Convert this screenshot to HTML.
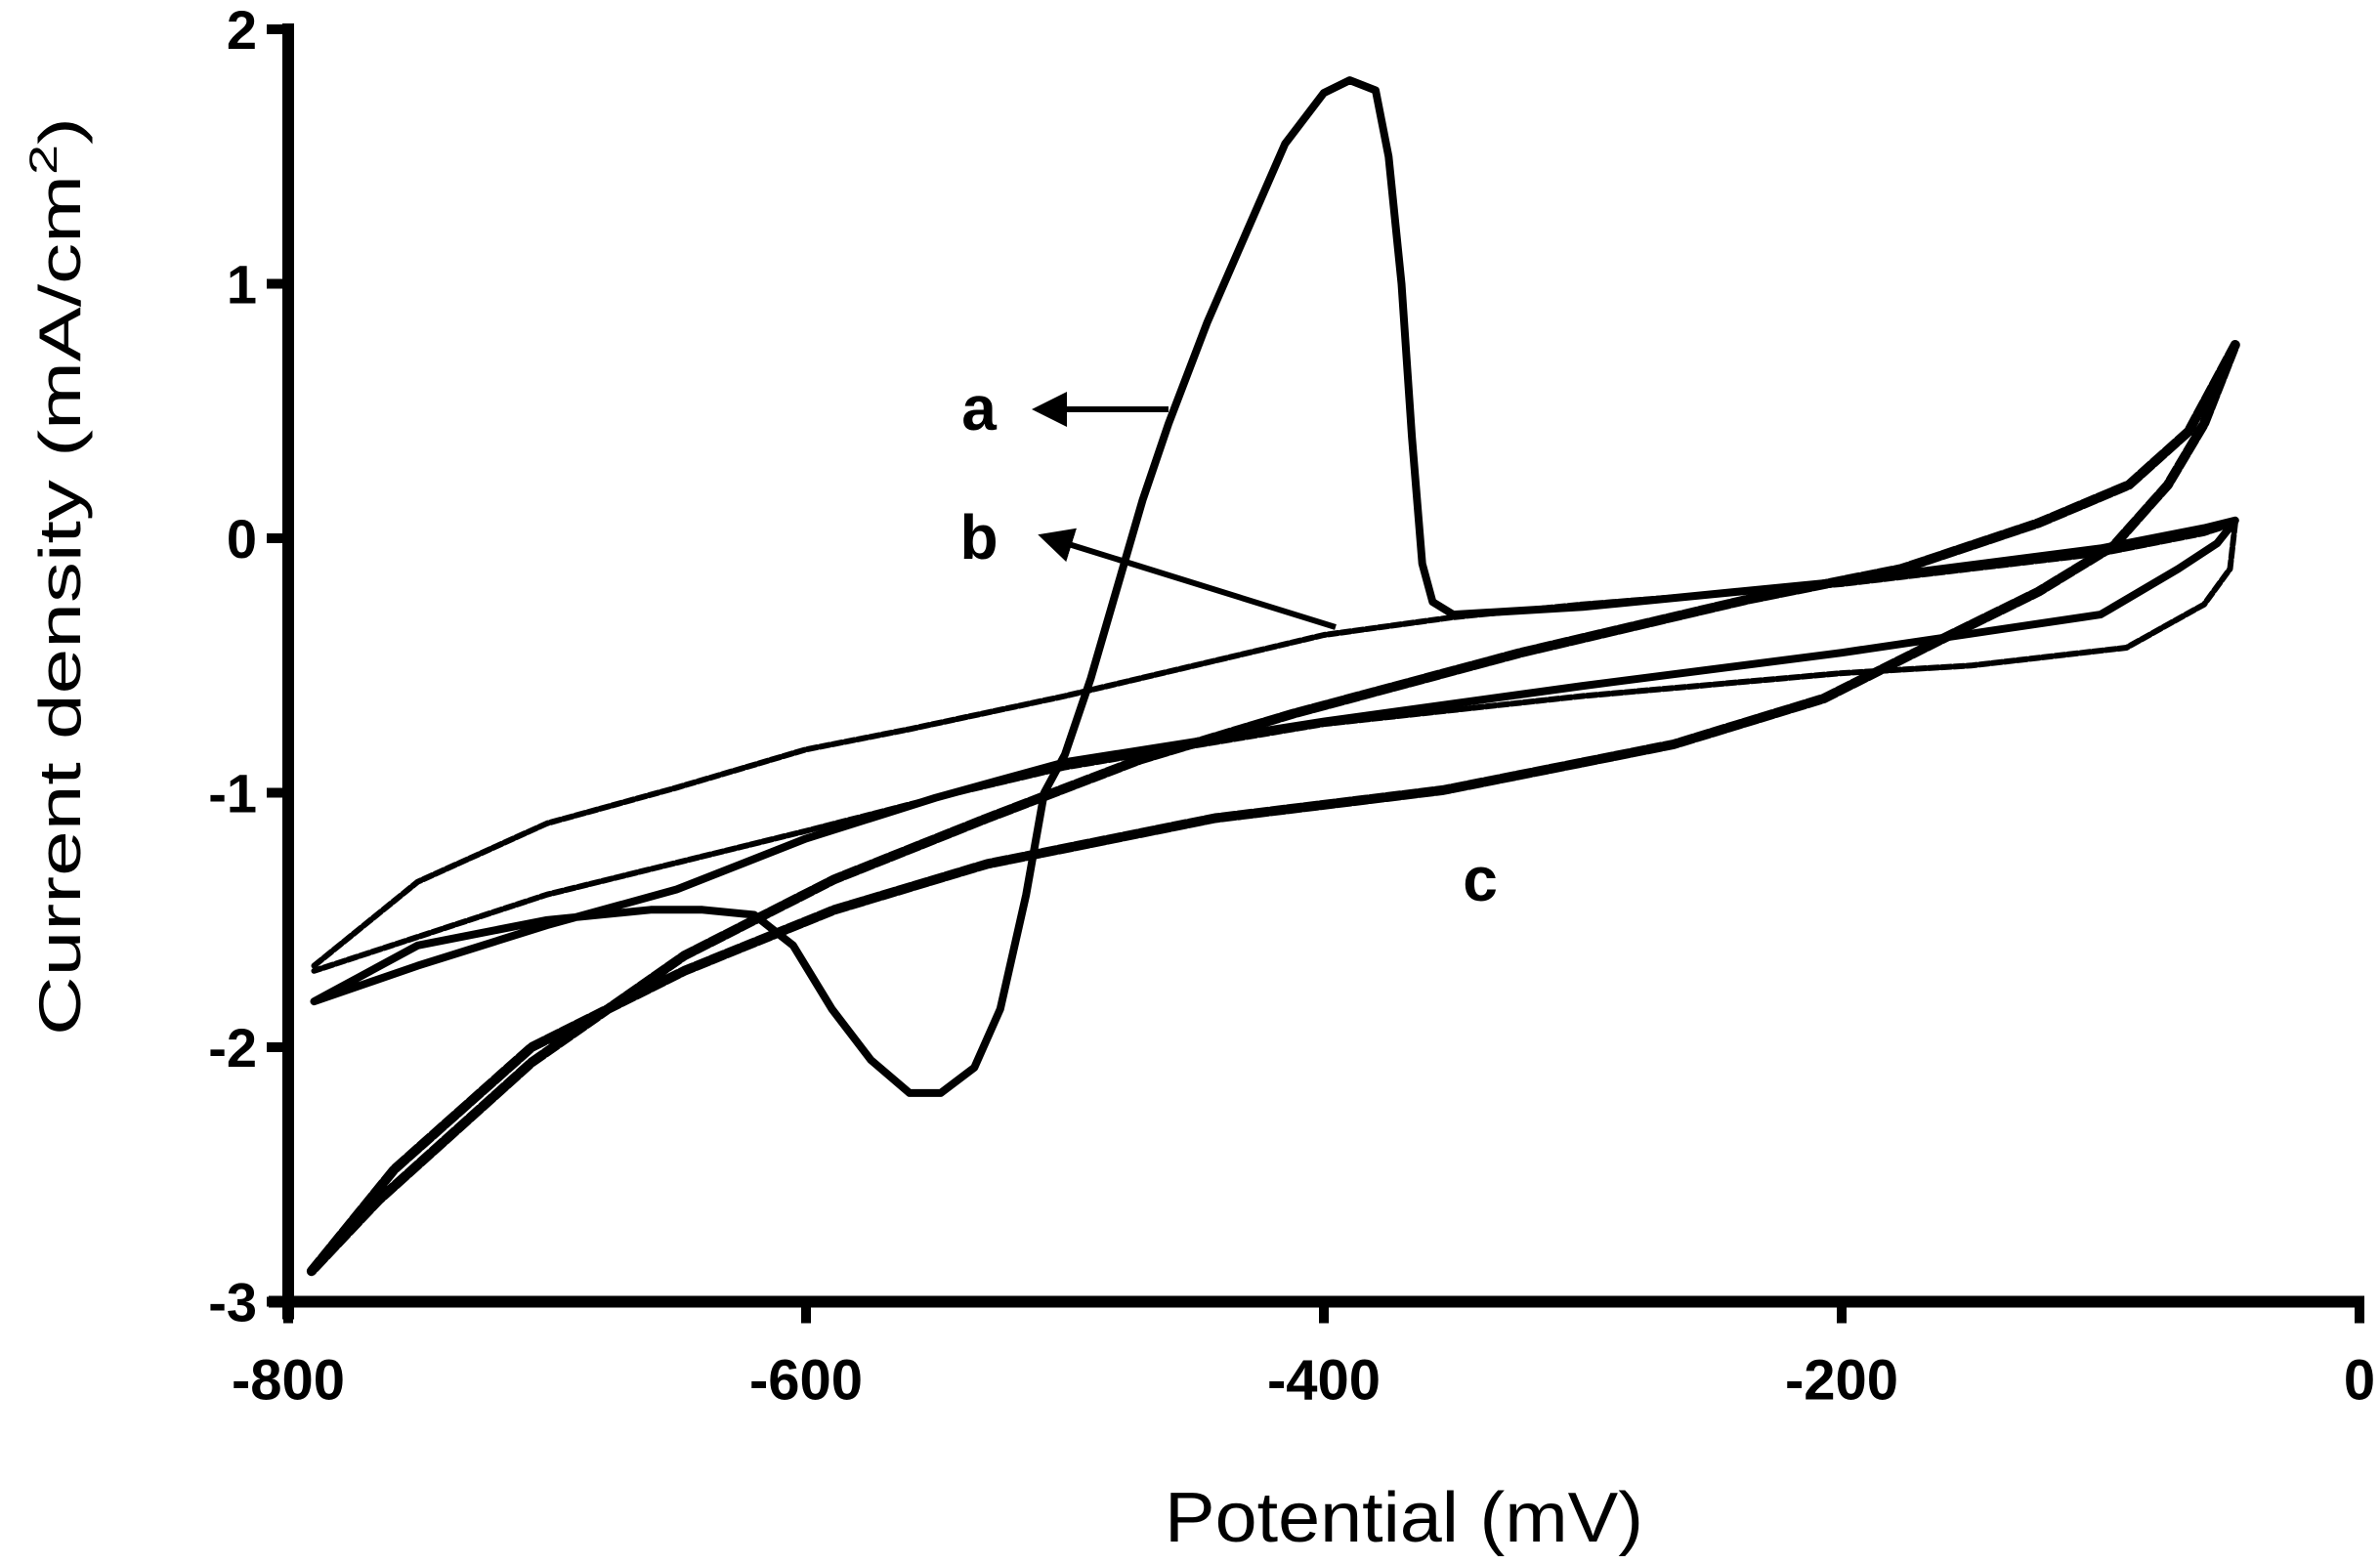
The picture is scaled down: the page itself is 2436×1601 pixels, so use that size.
<!DOCTYPE html>
<html><head><meta charset="utf-8"><style>
html,body{margin:0;padding:0;background:#fff;}
svg{display:block;}
text{font-family:"Liberation Sans",Arial,sans-serif;fill:#000;}
</style></head><body>
<svg id="chart" width="2436" height="1601" viewBox="0 0 2436 1601" xmlns="http://www.w3.org/2000/svg">
<g id="axes"></g>
<g id="series"></g>
<g id="annot"></g>
</svg>
<script>
const xTicks = [-800, -600, -400, -200, 0];
const yTicks = [2, 1, 0, -1, -2, -3];
const curveAx = [-790,-750,-700,-660,-640,-620,-605,-590,-575,-560,-548,-535,-525,-515,-508,-500,-490,-480,-470,-460,-445,-430,-415,-400,-390,-380,-375,-370,-366,-362,-358,-350,-300,-200,-100,-60,-48,-55,-70,-100,-200,-300,-400,-500,-550,-600,-650,-700,-750,-790];
const curveAy = [-1.82,-1.60,-1.50,-1.46,-1.46,-1.48,-1.60,-1.85,-2.05,-2.18,-2.18,-2.08,-1.85,-1.40,-1.00,-0.85,-0.55,-0.20,0.15,0.45,0.85,1.20,1.55,1.75,1.80,1.76,1.50,1.00,0.40,-0.10,-0.25,-0.30,-0.27,-0.17,-0.04,0.04,0.07,-0.02,-0.12,-0.30,-0.45,-0.58,-0.72,-0.88,-1.02,-1.18,-1.38,-1.52,-1.68,-1.82];
const curveBx = [-790,-750,-700,-650,-600,-560,-500,-450,-400,-350,-300,-200,-100,-60,-48,-50,-60,-90,-150,-200,-300,-400,-500,-550,-600,-700,-790];
const curveBy = [-1.68,-1.35,-1.12,-0.98,-0.83,-0.75,-0.62,-0.50,-0.38,-0.31,-0.26,-0.18,-0.06,0.02,0.06,-0.12,-0.26,-0.43,-0.50,-0.53,-0.62,-0.73,-0.90,-1.02,-1.15,-1.40,-1.70];
const curveCx = [-791,-759,-706,-647,-589,-530,-442,-354,-265,-207,-160,-124,-95,-74,-60,-48,-66,-89,-124,-177,-236,-324,-412,-471,-530,-589,-647,-706,-765,-791];
const curveCy = [-2.88,-2.48,-2.00,-1.70,-1.46,-1.28,-1.10,-0.99,-0.81,-0.63,-0.39,-0.21,-0.03,0.21,0.45,0.76,0.42,0.21,0.06,-0.12,-0.24,-0.45,-0.69,-0.87,-1.10,-1.34,-1.64,-2.06,-2.60,-2.88];

const X0 = 295, XW = 530/200, Y0 = 551, YH = 260.5;
function sx(v){ return X0 + (v + 800) * XW; }
function sy(v){ return Y0 - v * YH; }
const NS = "http://www.w3.org/2000/svg";
function mk(tag, parent, attrs){ const e=document.createElementNS(NS,tag); for(const k in attrs) e.setAttribute(k,attrs[k]); parent.appendChild(e); return e; }

const axes = document.getElementById('axes');
const yAxis = mk('line', axes, {x1:sx(-800), y1:sy(2)-6, x2:sx(-800), y2:sy(-3)+18, stroke:'#000','stroke-width':12});


const xAxis = mk('line', axes, {x1:sx(-800)-20, y1:sy(-3), x2:sx(0)+5, y2:sy(-3), stroke:'#000','stroke-width':12});


yTicks.forEach(t=>{
  const tk = mk('line', axes, {x1:sx(-800)-22, y1:sy(t), x2:sx(-800), y2:sy(t), stroke:'#000','stroke-width':10});
  
  
  const lb = mk('text', axes, {x:sx(-800)-32, y:sy(t)+20, 'font-size':56, 'font-weight':'bold', 'text-anchor':'end'});
  lb.textContent = String(t);
  
  
});
xTicks.forEach(t=>{
  const tk = mk('line', axes, {x1:sx(t), y1:sy(-3), x2:sx(t), y2:sy(-3)+22, stroke:'#000','stroke-width':10});
  
  
  const lb = mk('text', axes, {x:sx(t), y:sy(-3)+100, 'font-size':58, 'font-weight':'bold', 'text-anchor':'middle'});
  lb.textContent = String(t);
  
  
});
const xt = mk('text', axes, {x:1437, y:1578, 'font-size':72, 'text-anchor':'middle', textLength:490, lengthAdjust:'spacingAndGlyphs'});
xt.textContent = 'Potential (mV)';


const yt = mk('text', axes, {x:0, y:0, 'font-size':60, 'text-anchor':'middle', textLength:940, lengthAdjust:'spacingAndGlyphs', transform:'translate(82,590) rotate(-90)'});
yt.innerHTML = 'Current density (mA/cm<tspan dy="-24" font-size="40">2</tspan><tspan dy="24">)</tspan>';



const ser = document.getElementById('series');
function drawCurve(xs, ys, name, width, dash){
  let d='';
  xs.forEach((x,i)=>{ d += (i?'L':'M') + sx(x).toFixed(1) + ',' + sy(ys[i]).toFixed(1); });
  const p = mk('path', ser, {d:d, fill:'none', stroke:'#000', 'stroke-width':width, 'stroke-linejoin':'round','stroke-linecap':'round'});
  if(dash) p.setAttribute('stroke-dasharray', dash);
  
  
}
drawCurve(curveCx, curveCy, 'curve-c', 10, '14 3');
drawCurve(curveBx, curveBy, 'curve-b', 6, '10 3');
drawCurve(curveAx, curveAy, 'curve-a', 8, null);

const an = document.getElementById('annot');
const defs = mk('defs', an, {});
const mkr = mk('marker', defs, {id:'ah', markerWidth:6, markerHeight:6, refX:5, refY:3, orient:'auto', markerUnits:'strokeWidth'});
mk('path', mkr, {d:'M0,0 L6,3 L0,6 Z', fill:'#000'});
function label(txt, x, y, name){
  const t = mk('text', an, {x:x, y:y, 'font-size':64, 'font-weight':'bold', 'text-anchor':'middle'});
  t.textContent = txt;
  
  
}
label('a', 1002, 440, 'label-a');
label('b', 1002, 572, 'label-b');
label('c', 1515, 922, 'label-c');
const arA = mk('line', an, {x1:1196, y1:419, x2:1062, y2:419, stroke:'#000','stroke-width':6,'marker-end':'url(#ah)'});


const arB = mk('line', an, {x1:1367, y1:642, x2:1068, y2:549, stroke:'#000','stroke-width':6,'marker-end':'url(#ah)'});


</script>
</body></html>
